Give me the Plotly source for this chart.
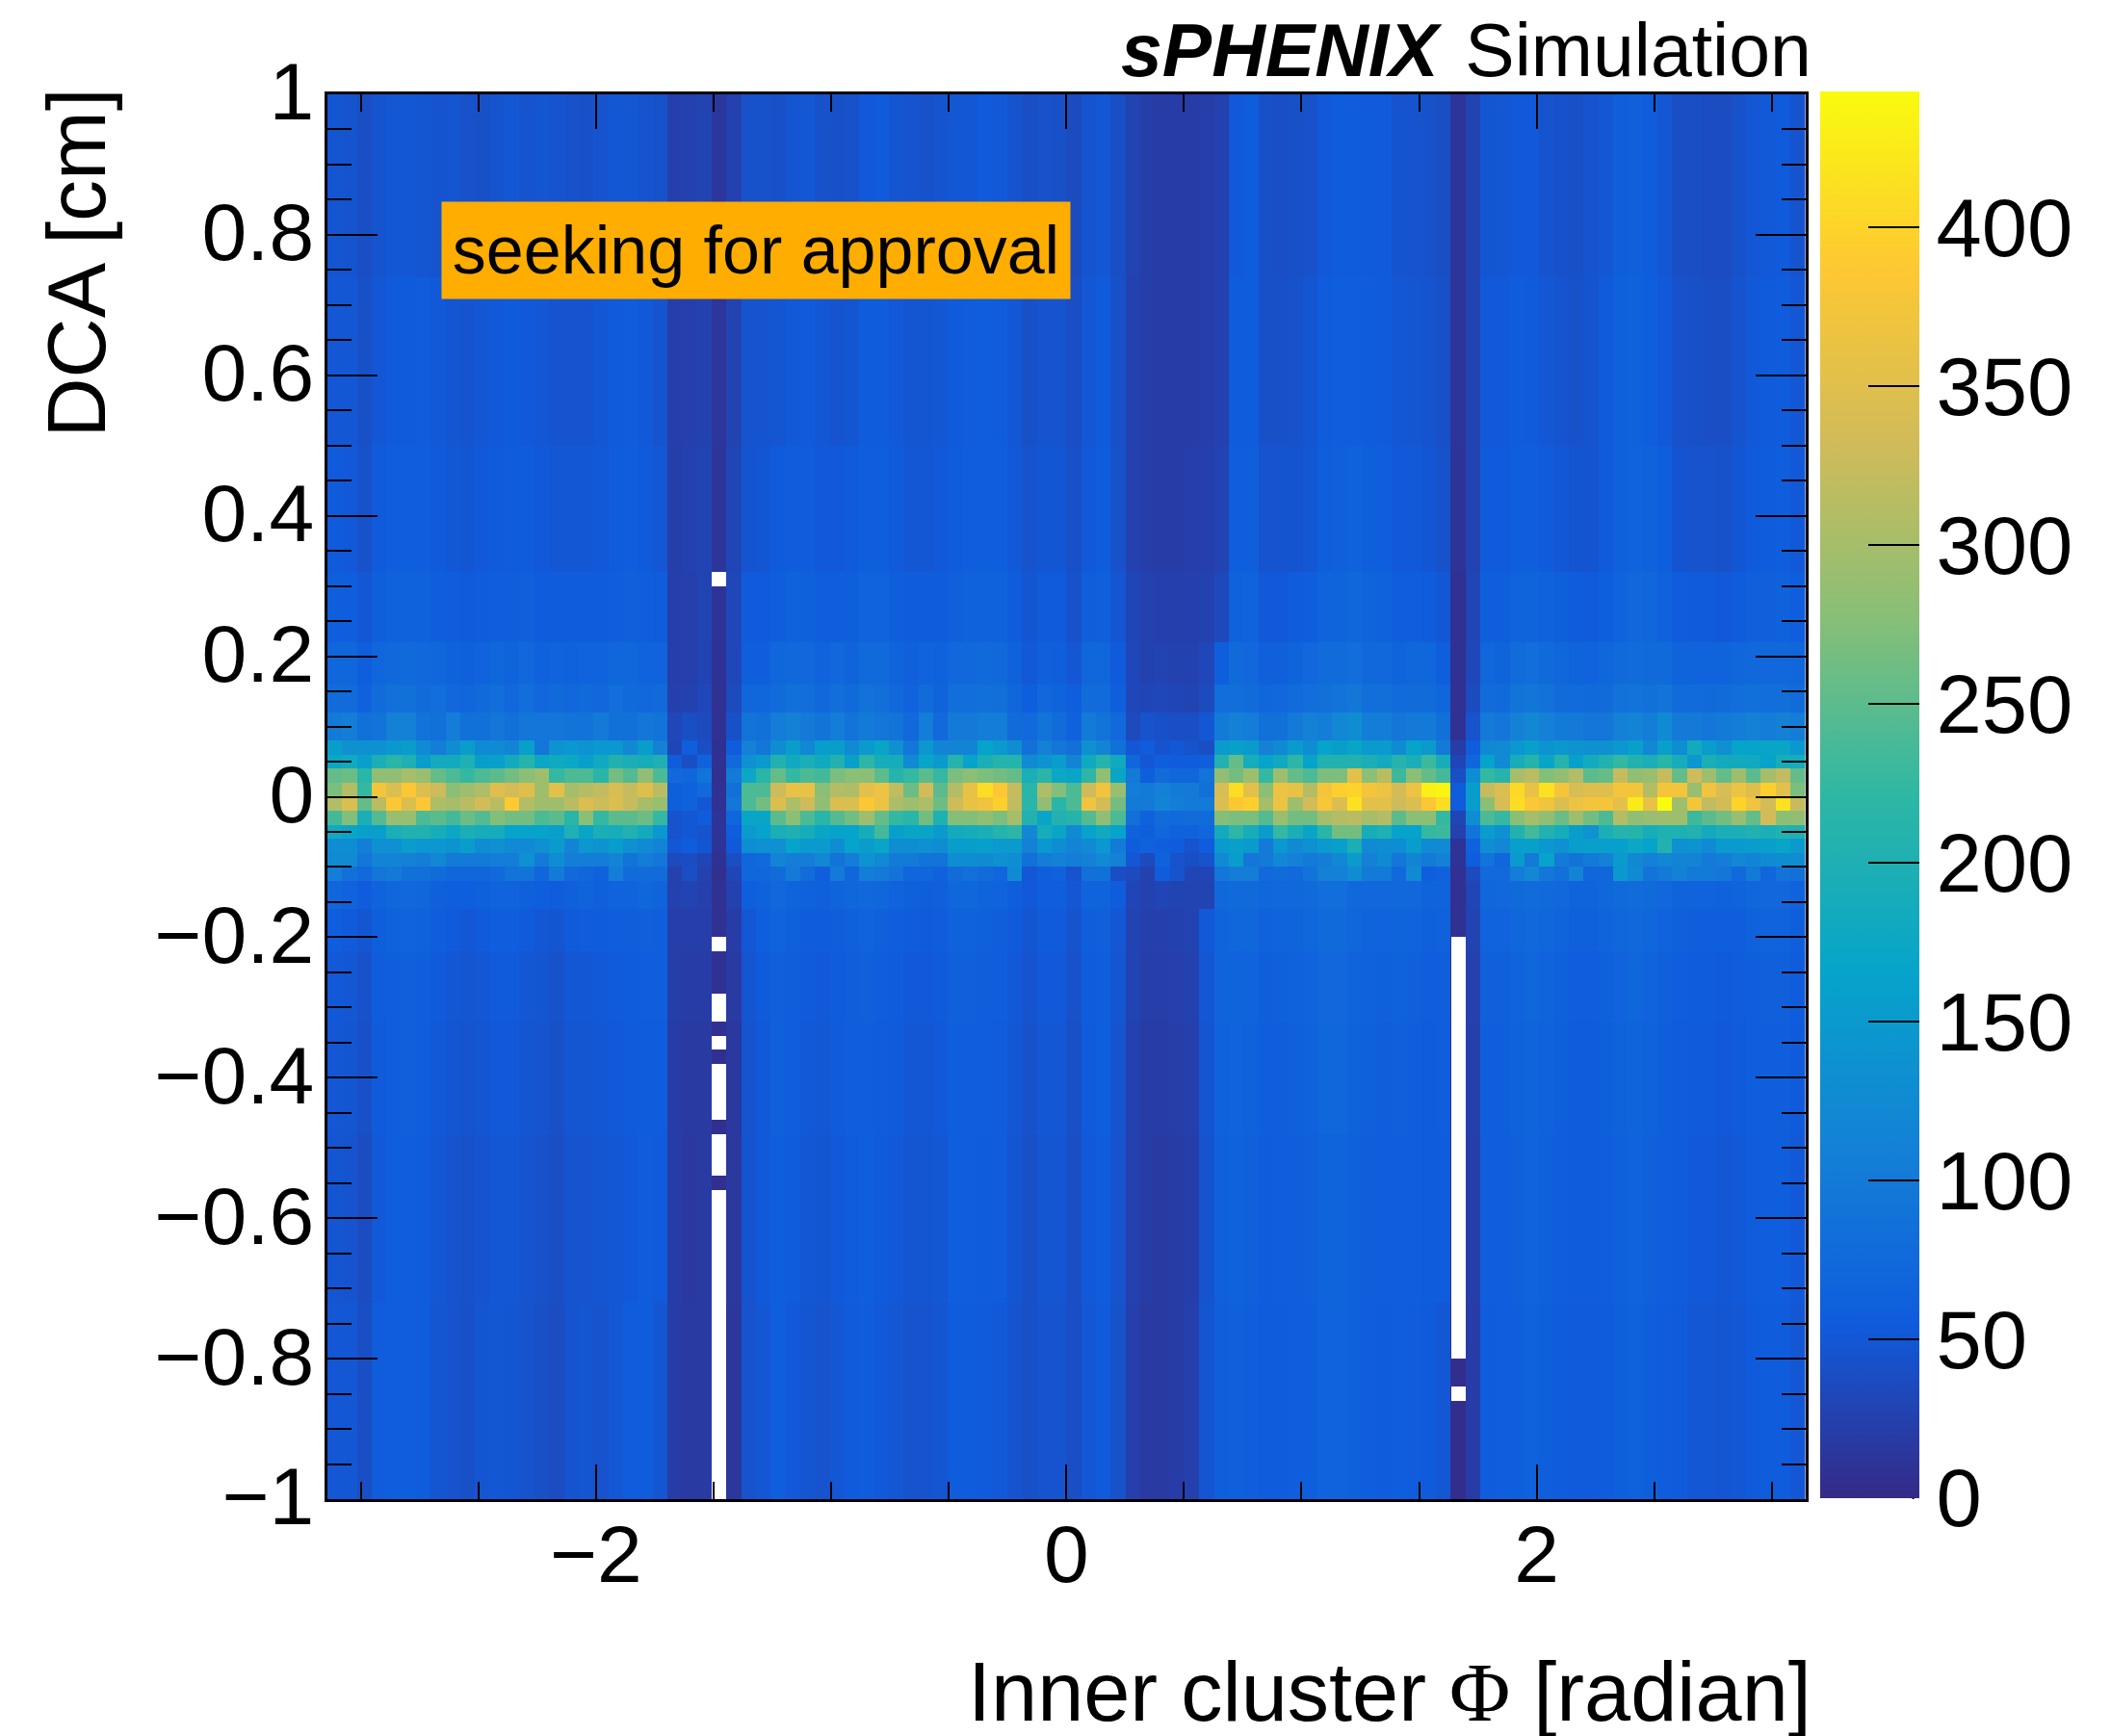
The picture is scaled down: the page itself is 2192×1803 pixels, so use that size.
import math
import numpy as np
import plotly.graph_objects as go

W, H = 2192, 1803
L, R, T, B = 340.0, 1880.5, 98.0, 1557.0
CB_LEFT, CB_RIGHT = 1890, 1993
CB_TOP, CB_BOTTOM = 97.0, 1558.0

X_TICKS = [-2, 0, 2]
X_LABELS = ["\u22122", "0", "2"]
Y_TICKS = [-1, -0.8, -0.6, -0.4, -0.2, 0, 0.2, 0.4, 0.6, 0.8, 1]
Y_LABELS = ["\u22121", "\u22120.8", "\u22120.6", "\u22120.4", "\u22120.2", "0", "0.2", "0.4", "0.6", "0.8", "1"]
CB_TICKS = [0, 50, 100, 150, 200, 250, 300, 350, 400]
Z_MAX = 443

# Row numbers (0-99, 0.02 wide each) that bound each typed band; the central rows are single bins
BAND_EDGES = [0, 14, 26, 34, 39, 42, 44, 45, 46, 47, 48, 49, 50, 51, 52, 53, 54, 56, 58, 61, 66, 75, 87, 100]

B00_13 = [50,50,40,55,60,60,55,48,45,42,48,50,48,45,42,38,46,48,45,50,55,55,48,
          20,18,18,6,14, 45,50,58,52,
          48,45,50,54,56,52,50,45,46,48,55,56,54,52,46,42,46,46,40,50,54,44,
          24,18,18,20,24,48,
          60,62,60,55,56,58,60,66,66,62,58,56,58,56,54,50,
          4,20,
          56,58,60,64,60,56,54,54,56,60,64,60,56,54,50,50,48,50,54,56,56,50]
B14_25 = [48,46,38,52,58,60,56,50,46,44,46,50,50,46,44,40,46,46,48,50,52,56,54,
          20,16,18,6,15, 46,52,60,56,
          50,48,52,56,58,54,52,48,48,50,58,58,56,55,48,42,48,48,40,52,56,45,
          25,20,18,20,22,46,
          62,64,62,56,58,60,62,68,68,62,60,58,60,58,55,56,
          5,22,
          58,58,62,66,62,58,55,55,58,62,66,62,58,55,52,52,50,52,56,58,58,52]
B26_33 = [50,48,42,54,58,62,58,52,48,46,48,52,52,48,46,42,48,48,50,52,54,56,56,
          20,18,18,7,16, 46,52,62,58,
          52,50,54,58,60,56,54,50,50,52,60,60,58,56,50,44,50,50,42,54,58,46,
          26,20,20,22,24,48,
          64,66,64,58,60,62,64,70,70,64,62,60,62,60,56,58,
          6,24,
          60,60,64,68,64,60,56,56,60,64,68,64,60,56,54,54,52,54,58,60,60,54]
B34_38 = [52,50,44,56,60,62,60,54,50,48,50,54,54,50,48,44,50,50,52,54,56,58,58,
          22,20,20,8,18, 48,54,62,60,
          54,52,56,60,62,58,56,52,52,54,62,62,60,58,52,46,52,52,44,56,60,48,
          28,22,22,24,26,50,
          66,68,66,60,62,64,66,72,72,66,64,62,64,62,58,60,
          6,25,
          62,62,66,70,66,62,58,58,62,66,70,66,62,58,56,56,54,56,60,62,62,56]
B39_41 = [58,54,48,60,64,66,64,58,54,50,54,58,58,54,50,48,54,56,56,58,60,62,60,
          22,22,22,8,20, 50,58,66,62,
          56,56,60,62,66,62,58,56,54,56,64,64,62,60,54,48,54,54,46,60,62,50,
          28,24,24,26,28,52,
          68,70,70,64,66,68,70,76,76,70,66,66,68,66,62,64,
          8,28,
          66,66,70,74,70,66,62,62,66,70,74,70,66,62,60,60,58,60,64,66,66,60]
B42_43 = [70,66,56,66,70,72,70,62,60,58,62,66,66,62,58,56,62,68,62,66,66,70,68,
          26,28,24,8,26, 58,64,72,68,
          64,62,68,70,74,70,66,62,60,62,70,70,68,66,60,52,60,60,50,66,68,56,
          30,26,30,28,28,28,
          74,76,76,70,72,74,76,82,82,74,72,72,74,72,66,68,
          8,30,
          70,72,76,80,76,72,68,68,70,76,80,76,72,68,66,66,64,66,70,72,72,66]
R44 = [105,85,75,95,100,85,85,80,70,70,70,75,90,90,70,100,75,70,65,105,80,80,80,
       25,40,25,6,30, 70,70,80,100,
       80,60,100,70,105,100,90,70,70,65,80,85,80,70,125,50,60,65,45,85,85,40,
       35,25,55,45,30,30,
       95,105,105,75,80,75,90,110,110,130,100,100,75,125,60,65,
       8,35,
       75,75,105,120,95,85,115,70,70,145,125,90,100,110,100,100,95,75,100,70,90,85]
R45 = [125,125,95,115,115,110,105,120,100,100,100,105,105,135,100,130,105,105,105,115,90,105,95,
       35,38,30,8,40, 70,75,115,105,
       105,120,90,105,140,125,100,100,90,90,130,130,125,135,130,85,105,110,105,110,125,110,
       50,35,65,45,40,45,
       125,155,95,100,120,110,100,105,120,150,110,125,95,115,100,110,
       10,55,
       90,70,150,100,165,100,90,100,110,150,120,110,120,115,115,100,105,120,115,125,130,130]
R46 = [130,130,105,135,135,155,145,145,140,155,130,135,125,125,135,150,115,145,140,155,135,125,115,
       50,55,48,10,52, 130,135,135,165,
       150,150,130,165,155,170,130,130,135,130,155,155,160,150,150,110,145,130,115,125,145,100,
       55,65,60,55,45,55,
       150,160,150,100,145,125,135,150,160,195,125,130,130,155,125,125,
       10,65,
       130,120,160,160,145,135,155,160,160,160,175,165,205,135,140,125,150,150,155,160,170,150]
R47 = [180,170,160,160,195,205,205,190,175,195,190,190,165,165,165,160,200,170,195,190,205,185,145,
       45,50,45,10,55, 150,165,195,200,
       190,170,165,165,190,235,160,170,170,150,185,190,195,210,220,120,190,170,125,165,180,165,
       65,60,70,65,65,70,
       185,220,190,155,225,195,170,215,265,265,190,200,165,165,225,230,
       25,90,
       155,135,205,235,205,190,155,140,195,210,210,190,200,200,205,185,195,195,205,195,205,200]
R48 = [235,275,195,245,290,290,240,250,235,260,245,275,265,265,240,250,215,280,225,250,250,260,225,
       45,50,55,10,70, 170,170,250,280,
       240,215,245,265,295,255,225,215,265,200,275,275,285,270,300,205,170,205,210,245,285,240,
       85,65,80,75,80,80,
       275,270,270,245,290,265,265,300,310,315,300,310,250,280,280,225,
       30,130,
       240,225,280,300,285,260,295,265,240,310,285,290,295,295,230,250,265,290,255,335,280,285]
R49 = [310,345,255,315,385,345,385,305,300,315,335,315,390,310,295,295,315,345,330,345,325,300,290,
       60,65,50,8,95, 240,265,345,305,
       330,285,345,345,385,365,305,295,305,260,330,360,370,395,320,215,285,215,240,370,335,265,
       100,100,115,105,100,100,
       345,385,395,300,365,295,335,380,345,415,355,355,330,345,385,410,
       55,155,
       280,340,410,385,370,345,365,375,375,355,425,360,443,295,375,320,335,400,370,335,415,325]
R50 = [270,310,225,375,345,385,345,330,280,295,305,350,335,350,295,355,300,310,320,340,325,350,315,
       60,65,75,8,85, 240,240,330,360,
       360,280,310,305,355,365,320,260,335,250,310,360,410,385,325,215,305,275,240,330,370,290,
       105,100,110,100,100,85,
       340,410,355,280,365,360,310,375,395,400,375,365,335,365,430,435,
       55,155,
       325,345,405,360,415,375,340,350,350,375,375,310,375,375,290,370,340,365,350,395,355,270]
R51 = [255,260,215,285,285,300,290,255,240,225,240,250,265,280,295,225,240,240,215,265,245,285,240,
       75,70,90,6,100, 175,215,255,225,
       240,235,270,280,280,250,210,225,250,225,270,280,270,265,255,195,215,175,170,220,285,170,
       100,60,80,70,70,90,
       285,265,295,225,295,255,240,270,270,355,280,315,230,280,255,235,
       40,130,
       225,210,300,315,275,285,310,250,255,325,285,290,325,255,330,295,255,295,250,300,320,255]
R52 = [175,180,160,195,215,200,155,185,185,200,155,160,185,210,175,180,175,160,180,205,195,190,200,
       55,40,65,8,75, 135,150,205,180,
       195,180,205,160,220,190,190,125,170,150,210,165,195,210,210,125,140,155,115,180,210,180,
       70,50,60,55,55,60,
       205,255,190,165,180,220,165,205,205,205,195,185,210,195,230,190,
       30,70,
       165,125,190,210,170,210,160,185,205,225,205,195,215,190,145,195,185,185,180,165,190,190]
R53 = [155,135,135,135,145,155,125,105,130,155,125,125,115,160,95,140,145,140,145,145,120,155,110,
       30,60,40,7,55, 110,95,130,155,
       120,155,155,125,150,170,135,95,145,115,115,115,165,150,130,85,110,95,85,135,115,85,
       50,55,45,50,45,40,
       150,160,150,110,125,150,130,165,155,170,150,150,125,165,150,100,
       20,55,
       120,125,145,160,140,145,140,135,135,145,160,120,160,130,185,155,135,165,165,170,170,145]
B54_55 = [100,105,85,90,110,110,90,85,105,85,85,95,85,95,95,95,90,90,100,85,85,95,90,
          32,40,35,8,42, 90,85,105,110,
          100,90,105,90,100,95,90,75,105,75,100,100,105,105,80,75,90,80,65,100,90,75,
          35,45,42,40,40,50,
          100,110,105,85,85,100,110,105,120,130,105,105,95,100,100,85,
          8,45,
          100,95,110,120,110,100,100,95,95,110,115,105,125,100,100,95,100,105,110,105,110,105]
B56_57 = [80,78,65,80,85,85,80,82,72,70,76,82,72,82,72,76,72,76,72,82,76,72,76,
          24,26,32,8,35, 70,70,80,85,
          82,74,84,76,88,84,74,66,80,68,82,82,86,84,70,58,72,68,58,80,78,60,
          32,30,32,30,28,36,
          82,84,80,70,72,78,82,86,90,96,84,84,78,80,80,70,
          8,36,
          80,76,90,94,88,80,78,76,80,88,90,86,92,78,80,76,80,82,86,82,84,80]
B58_60 = [70,70,58,70,74,76,74,70,64,62,66,70,68,72,64,66,64,66,66,70,70,66,66,
          22,24,28,9,32, 60,60,70,74,
          72,66,72,68,76,76,68,62,66,64,72,74,76,74,64,52,62,60,50,70,70,54,
          32,26,28,26,26,32,
          60,76,72,62,62,68,72,78,78,82,74,74,68,70,70,60,
          8,32,
          70,68,78,82,76,70,68,66,70,76,80,76,76,68,68,66,68,70,74,72,74,70]
B61_65 = [60,58,50,60,64,64,64,60,56,54,57,60,60,62,57,55,55,57,57,60,62,60,56,
          22,24,28,10,32, 54,54,60,64,
          62,58,60,60,66,66,60,55,57,57,62,64,64,64,57,48,54,54,44,60,62,48,
          30,26,24,24,24,26,
          34,64,66,52,52,55,58,66,68,70,68,64,59,59,57,50,
          8,30,
          60,60,66,68,64,60,55,54,59,66,72,70,64,57,54,54,52,57,62,62,64,58]
B66_74 = [54,52,44,54,58,58,58,54,51,49,52,54,56,56,52,50,50,50,52,56,58,54,50,
          22,26,28,12,30, 47,49,54,56,
          56,52,52,54,60,60,54,50,50,52,56,58,60,58,52,45,49,49,42,52,56,44,
          26,22,20,20,22,24,
          28,58,60,46,46,47,50,60,62,64,60,58,52,52,49,44,
          10,28,
          54,54,58,60,54,51,47,47,54,62,66,64,58,47,45,45,44,49,54,56,58,52]
B75_86 = [50,50,42,50,54,54,56,52,48,46,50,52,54,52,50,46,46,46,50,54,56,52,46,
          22,24,26,13,28, 46,46,48,52,
          54,50,46,48,56,56,52,48,48,50,54,56,58,56,50,42,46,46,40,50,54,42,
          26,22,20,20,20,22,
          26,56,56,42,42,44,48,56,60,60,56,54,50,48,46,42,
          12,28,
          52,52,56,54,50,46,44,46,54,62,64,58,52,44,42,40,40,46,52,54,56,50]
B87_99 = [48,46,40,46,50,50,48,46,48,44,42,46,50,46,48,46,44,42,46,50,50,46,44,
          24,26,28,14,26, 44,44,42,48,
          50,44,42,44,52,54,48,46,44,46,50,50,54,52,46,40,44,42,36,46,50,40,
          28,22,20,20,20,22,
          26,52,56,42,40,42,44,52,56,56,54,54,46,46,44,40,
          12,28,
          48,50,52,52,46,44,42,46,50,60,62,56,50,40,40,38,38,44,50,52,54,46]

Z_BANDS = [B00_13, B14_25, B26_33, B34_38, B39_41, B42_43, R44, R45, R46, R47, R48, R49, R50,
           R51, R52, R53, B54_55, B56_57, B58_60, B61_65, B66_74, B75_86, B87_99]

# Empty bins (drawn white, as ROOT leaves zero bins), given as column: rows
EMPTY_BINS = {
    26: list(range(0, 22)) + [23, 24, 25, 27, 28, 29, 30, 32, 34, 35, 39, 65],
    76: [7] + list(range(10, 40)),
}

FONT = "Liberation Sans"
KBIRD = [(0, "#352a87"), (0.125, "#0f5cdd"), (0.25, "#1481d6"), (0.375, "#06a4ca"),
         (0.5, "#2eb7a4"), (0.625, "#87bf77"), (0.75, "#d1bb59"), (0.875, "#fec832"), (1, "#f9fb0e")]

for row in Z_BANDS:
    assert len(row) == 100, len(row)
assert len(Z_BANDS) == len(BAND_EDGES) - 1

x_edges = np.linspace(-math.pi, math.pi, 101)
y_edges = [-1 + 0.02 * r for r in BAND_EDGES]
y_fine = np.linspace(-1, 1, 101)
empty = [[None] * 100 for _ in range(100)]
for col, rows in EMPTY_BINS.items():
    for r in rows:
        empty[r][col] = 1


def px(x):
    return (x - L) / (R - L)


def py(y):
    return (B - y) / (B - T)


fig = go.Figure()
fig.add_trace(go.Heatmap(
    x=x_edges, y=y_edges, z=Z_BANDS, zmin=0, zmax=Z_MAX, colorscale=KBIRD, zsmooth=False,
    colorbar=dict(
        xref="container", yref="container", x=CB_LEFT / W, xanchor="left",
        y=1 - (CB_TOP + 20) / H, yanchor="top", lenmode="pixels", len=CB_BOTTOM - CB_TOP,
        thickness=CB_RIGHT - CB_LEFT, thicknessmode="pixels", xpad=0, ypad=0, outlinewidth=0,
        tickmode="array", tickvals=CB_TICKS, ticks="inside", ticklen=53, tickwidth=2,
        tickcolor="black", tickfont=dict(family=FONT, size=85, color="black"),
    ),
))
fig.add_trace(go.Heatmap(
    x=x_edges, y=y_fine, z=empty, zmin=0, zmax=1, showscale=False, zsmooth=False,
    colorscale=[[0, "white"], [1, "white"]], hoverinfo="skip",
))

axis_common = dict(showline=True, linecolor="black", linewidth=3, mirror="ticks",
                   ticks="inside", tickcolor="black", tickwidth=2, showgrid=False,
                   zeroline=False, tickfont=dict(family=FONT, size=84, color="black"))
fig.update_layout(
    width=W, height=H, autosize=False, paper_bgcolor="white", plot_bgcolor="white",
    margin=dict(l=L, r=W - R, t=T, b=H - B),
    xaxis=dict(range=[-math.pi, math.pi], tickmode="array", tickvals=X_TICKS, ticktext=X_LABELS,
               ticklen=36, ticklabelstandoff=-18,
               minor=dict(tickmode="linear", tick0=0, dtick=0.5, ticks="inside", ticklen=18,
                          tickwidth=2, tickcolor="black", showgrid=False), **axis_common),
    yaxis=dict(range=[-1, 1], tickmode="array", tickvals=Y_TICKS, ticktext=Y_LABELS,
               ticklen=52, ticklabelstandoff=-6, ticklabelshift=-3,
               minor=dict(tickmode="linear", tick0=0, dtick=0.05, ticks="inside", ticklen=25,
                          tickwidth=2, tickcolor="black", showgrid=False), **axis_common),
    shapes=[dict(type="line", xref="paper", yref="paper", x0=px(CB_RIGHT), x1=px(CB_RIGHT),
                 y0=0, y1=1, line=dict(color="black", width=2))],
    annotations=[
        dict(text='Inner cluster <span style="font-family:Liberation Serif">\u03a6</span> [radian]',
             xref="paper", yref="paper", x=px(1889), y=py(1757), xanchor="right", yanchor="middle",
             showarrow=False, font=dict(family=FONT, size=86.5, color="black")),
        dict(text="DCA [cm]", xref="paper", yref="paper", x=px(78), y=py(90), xanchor="center",
             yanchor="top", textangle=-90, showarrow=False,
             font=dict(family=FONT, size=86, color="black")),
        dict(text="<b><i>sPHENIX</i></b> \u200aSimulation", xref="paper", yref="paper", x=px(1889), y=py(52),
             xanchor="right", yanchor="middle", showarrow=False,
             font=dict(family=FONT, size=77, color="black")),
        dict(text="seeking for approval", xref="paper", yref="paper", x=px(458), y=py(209),
             xanchor="left", yanchor="top", width=652, height=100, align="center", valign="middle",
             bgcolor="#ffad00", borderpad=0, showarrow=False,
             font=dict(family=FONT, size=70, color="black")),
    ],
)
fig.write_html("out.html", post_script="document.body.style.margin='0';",
               config={"displayModeBar": False})
